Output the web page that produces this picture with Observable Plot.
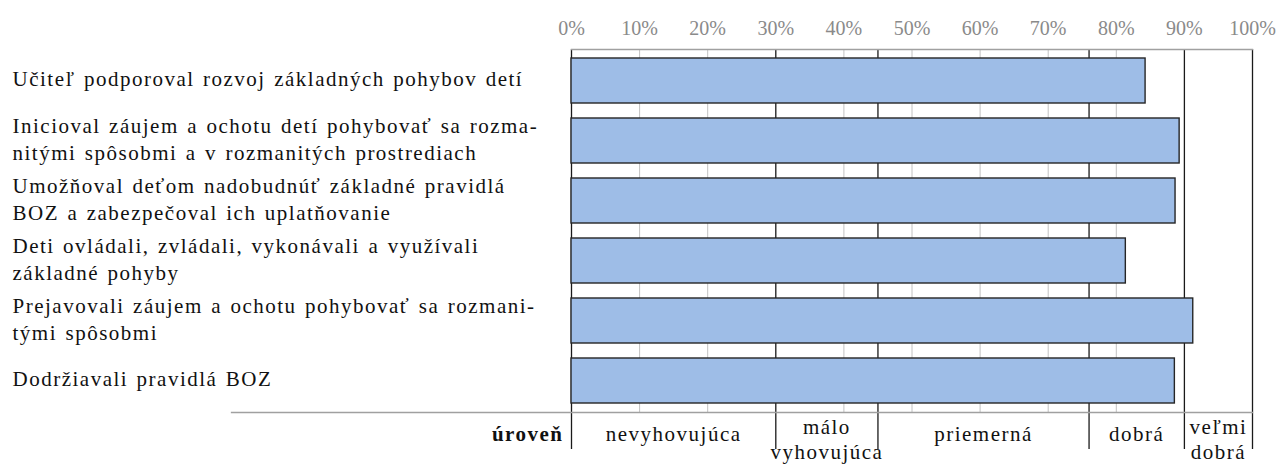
<!DOCTYPE html>
<html>
<head>
<meta charset="utf-8">
<script src="https://cdn.jsdelivr.net/npm/d3@7"></script>
<script src="https://cdn.jsdelivr.net/npm/@observablehq/plot@0.6"></script>
<style>
  html, body { margin: 0; padding: 0; background: #fff; }
  #chart { width: 1280px; height: 465px; overflow: hidden; }
  #chart svg text, #chart svg tspan {
    font-family: "Liberation Serif", "DejaVu Serif", "Noto Serif", "Times New Roman", Times, serif !important;
  }
  #chart svg g[aria-label="text"] {
    letter-spacing: 1.5px;
    word-spacing: 1.7px;
  }
</style>
</head>
<body>
<div id="chart"></div>
<script>
// Items (rows), top to bottom
const labels = [
  "Učiteľ podporoval rozvoj základných pohybov detí",
  "Inicioval záujem a ochotu detí pohybovať sa rozma-\nnitými spôsobmi a v rozmanitých prostrediach",
  "Umožňoval deťom nadobudnúť základné pravidlá\nBOZ a zabezpečoval ich uplatňovanie",
  "Deti ovládali, zvládali, vykonávali a využívali\nzákladné pohyby",
  "Prejavovali záujem a ochotu pohybovať sa rozmani-\ntými spôsobmi",
  "Dodržiavali pravidlá BOZ"
];
// Percent values
const values = [84.3, 89.3, 88.7, 81.4, 91.3, 88.6];

// Level scale
const levelNames = ["nevyhovujúca", "málo\nvyhovujúca", "priemerná", "dobrá", "veľmi\ndobrá"];
const levelBounds = [0, 30, 45, 76, 90, 100];
const levelTitle = "úroveň";

// Axis ticks
const tickValues = [0, 10, 20, 30, 40, 50, 60, 70, 80, 90, 100];

const rows = labels.map((label, i) => ({label, value: values[i]}));
const levels = levelNames.map((name, i) => ({
  name,
  mid: (levelBounds[i] + levelBounds[i + 1]) / 2,
  twoLine: name.includes("\n")
}));
const lightGrid = tickValues.filter(t => !levelBounds.includes(t));

const chart = Plot.plot({
  width: 1280,
  height: 465,
  marginLeft: 571,
  marginRight: 28,
  marginTop: 49,
  marginBottom: 53,
  style: {background: "#fff", color: "#111", overflow: "visible"},
  x: {domain: [0, 100], axis: null},
  y: {domain: labels, axis: null, paddingInner: 0.245, paddingOuter: 0.128},
  marks: [
    Plot.ruleX(lightGrid, {stroke: "#c2c2c2", strokeWidth: 1}),
    Plot.ruleX(levelBounds, {stroke: "#1a1a1a", strokeWidth: 1.3, insetBottom: -37}),
    Plot.frame({anchor: "top", stroke: "#a0a0a0", strokeWidth: 1.3}),
    Plot.frame({anchor: "bottom", stroke: "#a0a0a0", strokeWidth: 1.3, insetLeft: -340}),
    Plot.barX(rows, {
      y: "label",
      x: "value",
      fill: "#9ebde7",
      stroke: "#262626",
      strokeWidth: 1.4
    }),
    Plot.axisX(tickValues, {
      anchor: "top",
      tickSize: 0,
      tickPadding: 15,
      tickFormat: d => d + "%",
      color: "#8a8a8a",
      fontSize: 20,
      label: null
    }),
    Plot.text(rows, {
      y: "label",
      text: "label",
      frameAnchor: "left",
      textAnchor: "start",
      dx: -559,
      dy: -3,
      lineHeight: 1.25,
      fontSize: 21,
      fill: "#111"
    }),
    Plot.text(levels.filter(d => !d.twoLine), {
      x: "mid",
      text: "name",
      frameAnchor: "bottom",
      lineAnchor: "top",
      dy: 14,
      fontSize: 21,
      fill: "#111"
    }),
    Plot.text(levels.filter(d => d.twoLine), {
      x: "mid",
      text: "name",
      frameAnchor: "bottom",
      lineAnchor: "top",
      dy: 3,
      lineHeight: 1.22,
      fontSize: 21,
      fill: "#111"
    }),
    Plot.text([levelTitle], {
      text: d => d,
      frameAnchor: "bottom-left",
      textAnchor: "end",
      lineAnchor: "top",
      dx: -8,
      dy: 14,
      fontSize: 21,
      fontWeight: "bold",
      fill: "#111"
    })
  ]
});

document.getElementById("chart").appendChild(chart);
</script>
</body>
</html>
